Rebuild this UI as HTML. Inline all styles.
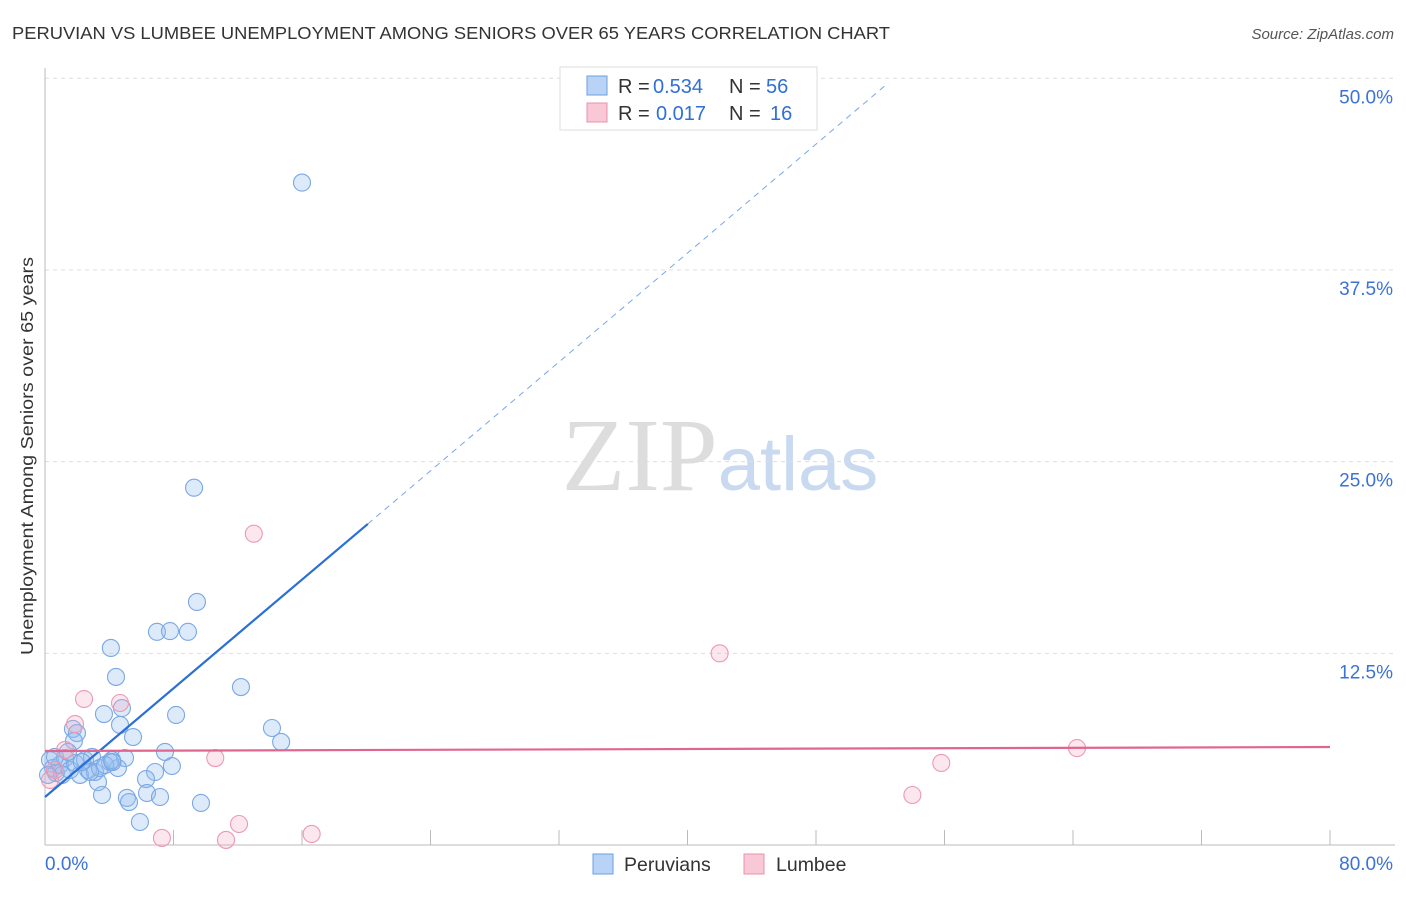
<!DOCTYPE html>
<html><head><meta charset="utf-8"><style>
body{margin:0;background:#fff;font-family:"Liberation Sans",sans-serif}
</style></head><body>
<svg id="c" width="1406" height="892" xmlns="http://www.w3.org/2000/svg" font-family="Liberation Sans, sans-serif">
<text x="12" y="39" font-size="17.5" fill="#333" textLength="878" lengthAdjust="spacingAndGlyphs">PERUVIAN VS LUMBEE UNEMPLOYMENT AMONG SENIORS OVER 65 YEARS CORRELATION CHART</text>
<text x="1394" y="39" font-size="15" fill="#555" font-style="italic" text-anchor="end">Source: ZipAtlas.com</text>
<text x="720" y="490" font-size="104" text-anchor="middle"><tspan font-family="Liberation Serif, serif" fill="#ddd">ZIP</tspan><tspan fill="#c9d9f0" font-size="76">atlas</tspan></text>
<text transform="translate(33,456) rotate(-90)" font-size="17.5" fill="#333" text-anchor="middle" textLength="398" lengthAdjust="spacingAndGlyphs">Unemployment Among Seniors over 65 years</text>
<g id="grid"></g><g id="pts"></g><g id="lines"></g>
<g font-size="20">
<rect x="560" y="67" width="257" height="63" fill="#fff" stroke="#ddd"/>
<rect x="587" y="76" width="20" height="19" fill="#b8d3f5" stroke="#6a9fe0"/>
<text x="618" y="93" fill="#333">R =</text><text x="653" y="93" fill="#2f6fd6">0.534</text>
<text x="729" y="93" fill="#333">N =</text><text x="766" y="93" fill="#2f6fd6">56</text>
<rect x="587" y="103" width="20" height="19" fill="#f8c8d6" stroke="#e890aa"/>
<text x="618" y="120" fill="#333">R =</text><text x="656" y="120" fill="#2f6fd6">0.017</text>
<text x="729" y="120" fill="#333">N =</text><text x="770" y="120" fill="#2f6fd6">16</text>
</g>
<g>
<rect x="593" y="854" width="20" height="20" fill="#b8d3f5" stroke="#6a9fe0"/>
<text x="624" y="871" font-size="19.5" fill="#333">Peruvians</text>
<rect x="744" y="854" width="20" height="20" fill="#f8c8d6" stroke="#e890aa"/>
<text x="776" y="871" font-size="19.5" fill="#333">Lumbee</text>
</g>
<text x="45" y="870" font-size="19" fill="#3b72d8">0.0%</text>
<text x="1393" y="870" font-size="19" fill="#3b72d8" text-anchor="end">80.0%</text>
</svg>
<script>
const yTicks=[12.5,25,37.5,50];
const yTickLabels=["12.5%","25.0%","37.5%","50.0%"];
const xTicks=[0,8,16,24,32,40,48,56,64,72,80];
const peruX=[16.0,9.28,9.46,6.97,7.78,8.9,4.1,12.2,4.42,3.67,4.79,8.16,4.67,14.13,14.7,5.48,1.74,1.99,1.8,7.47,4.98,7.9,6.85,6.29,4.54,4.05,3.3,3.55,6.35,7.16,5.1,5.23,9.71,5.91,0.31,0.5,0.68,0.93,1.06,1.25,1.56,1.87,2.18,2.49,2.68,2.93,3.11,3.42,3.74,4.17,0.19,0.62,1.43,2.8,4.2,2.3];
const peruY=[43.2,23.3,15.85,13.9,13.95,13.9,12.85,10.3,10.96,8.54,8.93,8.48,7.83,7.63,6.72,7.04,7.57,7.3,6.78,6.07,5.67,5.15,4.76,4.3,5.02,5.41,4.1,3.26,3.39,3.13,3.07,2.8,2.74,1.5,5.54,5.02,4.7,5.22,4.57,5.67,4.89,5.35,4.57,5.54,4.89,5.74,4.76,5.02,5.22,5.54,4.57,5.74,6.07,4.76,5.41,5.41];
const lumX=[13.0,42.0,64.25,55.8,54.0,10.6,12.08,16.6,7.28,11.27,2.43,1.87,4.67,1.25,0.31,0.62];
const lumY=[20.3,12.5,6.32,5.35,3.26,5.67,1.37,0.72,0.46,0.33,9.52,7.89,9.26,6.2,4.24,4.89];
const peruTrend=[[0,3.13],[20.1,20.94],[52.5,49.7]];
const lumTrend=[[0,6.13],[80,6.39]];
const X=v=>45+v/80*1285, Y=v=>845-v/50*766.7;
const NS="http://www.w3.org/2000/svg";
function mk(p,t,a){const e=document.createElementNS(NS,t);for(const k in a)e.setAttribute(k,a[k]);document.getElementById(p).appendChild(e);return e;}
yTicks.forEach((t,i)=>{
 const l=mk('grid','line',{x1:45,x2:1395,y1:Y(t),y2:Y(t),stroke:'#ddd','stroke-dasharray':'4,4'});
 
 
 const tx=mk('grid','text',{x:1393,y:Y(t)+25,'font-size':19,fill:'#3b72d8','text-anchor':'end'});
 tx.textContent=yTickLabels[i];
 
 
});
let a=mk('grid','line',{x1:45,x2:45,y1:68,y2:845,stroke:'#bbb'});


a=mk('grid','line',{x1:45,x2:1395,y1:845,y2:845,stroke:'#bbb'});


xTicks.forEach(t=>{const l=mk('grid','line',{x1:X(t),x2:X(t),y1:830,y2:845,stroke:'#bbb'});
 
 });
peruX.forEach((v,i)=>{const c=mk('pts','circle',{cx:X(v),cy:Y(peruY[i]),r:8.5,fill:'rgba(150,190,240,0.32)',stroke:'#7aa8e4','stroke-width':1.1});
 
 });
lumX.forEach((v,i)=>{const c=mk('pts','circle',{cx:X(v),cy:Y(lumY[i]),r:8.5,fill:'rgba(245,170,195,0.28)',stroke:'#eb9ab2','stroke-width':1.1});
 
 });
let t=mk('lines','line',{x1:X(peruTrend[0][0]),y1:Y(peruTrend[0][1]),x2:X(peruTrend[1][0]),y2:Y(peruTrend[1][1]),stroke:'#2a6fd6','stroke-width':2.2});


t=mk('lines','line',{x1:X(peruTrend[1][0]),y1:Y(peruTrend[1][1]),x2:X(peruTrend[2][0]),y2:Y(peruTrend[2][1]),stroke:'#7aa6e6','stroke-width':1,'stroke-dasharray':'6,5'});


t=mk('lines','line',{x1:X(lumTrend[0][0]),y1:Y(lumTrend[0][1]),x2:X(lumTrend[1][0]),y2:Y(lumTrend[1][1]),stroke:'#e0668f','stroke-width':2.2});


</script>
</body></html>
